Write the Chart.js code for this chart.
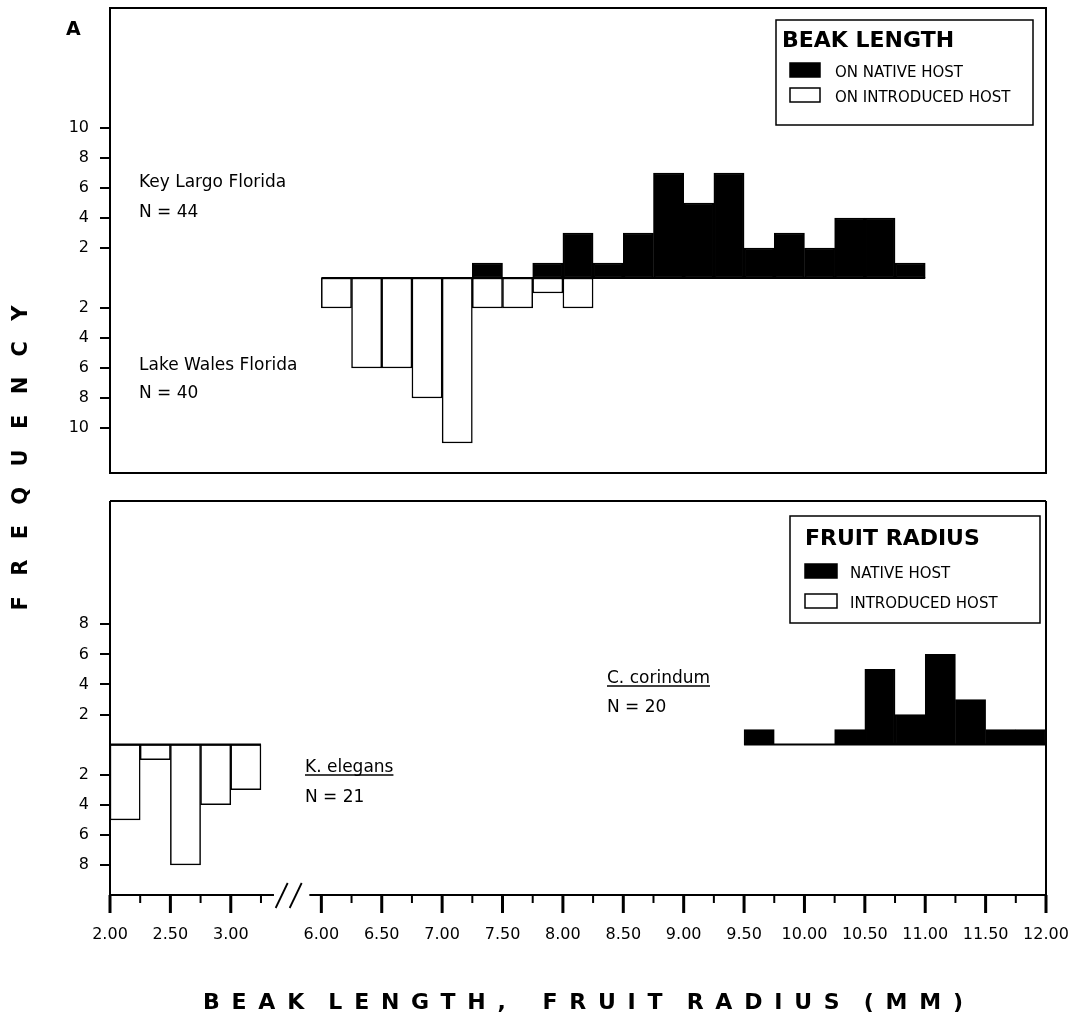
<!DOCTYPE html>
<html>
<head>
<meta charset="utf-8">
<title>Beak length and fruit radius</title>
<script src="https://cdn.jsdelivr.net/npm/chart.js@4.4.1/dist/chart.umd.min.js"></script>
<style>
  body { margin: 0; background: #fff; }
  #wrap { position: relative; width: 1078px; height: 1021px; }
  #wrap canvas { position: absolute; left: 0; top: 0; }
</style>
</head>
<body>
<div id="wrap">
  <canvas id="bottomChart" width="1078" height="1021"></canvas>
  <canvas id="topChart" width="1078" height="1021"></canvas>
</div>
<script>
// === Data (bin start in mm, bins are 0.25 mm wide) ===
const beakBins       = [6.00, 6.25, 6.50, 6.75, 7.00, 7.25, 7.50, 7.75, 8.00, 8.25,
                        8.50, 8.75, 9.00, 9.25, 9.50, 9.75, 10.00, 10.25, 10.50, 10.75];
const beakNative     = [0, 0, 0, 0, 0, 1, 0, 1, 3, 1, 3, 7, 5, 7, 2, 3, 2, 4, 4, 1];   // Key Largo, N = 44
const beakIntroduced = [2, 6, 6, 8, 11, 2, 2, 1, 2, 0, 0, 0, 0, 0, 0, 0, 0, 0, 0, 0]; // Lake Wales, N = 40

const fruitIntroducedBins = [2.00, 2.25, 2.50, 2.75, 3.00];
const fruitIntroduced     = [5, 1, 8, 4, 3];                                          // K. elegans, N = 21
const fruitNativeBins     = [9.50, 9.75, 10.00, 10.25, 10.50, 10.75, 11.00, 11.25, 11.50, 11.75];
const fruitNative         = [1, 0, 0, 1, 5, 2, 6, 3, 1, 1];                           // C. corindum, N = 20

const xTickValues = [2.00, 2.25, 2.50, 2.75, 3.00, 3.25,
                     6.00, 6.25, 6.50, 6.75, 7.00, 7.25, 7.50, 7.75, 8.00, 8.25, 8.50, 8.75,
                     9.00, 9.25, 9.50, 9.75, 10.00, 10.25, 10.50, 10.75, 11.00, 11.25, 11.50, 11.75, 12.00];
const xTickLabels = ['2.00', '2.50', '3.00', '6.00', '6.50', '7.00', '7.50', '8.00', '8.50',
                     '9.00', '9.50', '10.00', '10.50', '11.00', '11.50', '12.00'];
const yTicksTop    = [10, 8, 6, 4, 2];
const yTicksBottom = [8, 6, 4, 2];

const beakLegendTitle  = 'BEAK LENGTH';
const beakLegendLabels = ['ON NATIVE HOST', 'ON INTRODUCED HOST'];
const fruitLegendTitle  = 'FRUIT RADIUS';
const fruitLegendLabels = ['NATIVE HOST', 'INTRODUCED HOST'];

// === Broken x axis: 3.25 .. 6.00 is squeezed out ===
const BIN = 0.25;
const BREAK_AT = 4.5;
const BREAK_SHIFT = 2.25;
const toPos = v => (v > BREAK_AT ? v - BREAK_SHIFT : v);

Chart.defaults.font.family = '"DejaVu Sans", sans-serif';
Chart.defaults.font.size = 16;
Chart.defaults.color = '#000';

function histData(bins, counts, sign) {
    return bins.map((b, i) => ({ x: toPos(b + BIN / 2), y: counts[i] ? sign * counts[i] : null }));
}

function barSet(data, fill) {
    return {
        data: data,
        backgroundColor: fill,
        borderColor: '#000',
        borderWidth: 1.5,
        borderSkipped: false,
        grouped: false,
        barPercentage: 1,
        categoryPercentage: 1
    };
}

// keep the plot area exactly where the layout padding puts it
function noScalePadding(s) {
    s.paddingTop = 0;
    s.paddingBottom = 0;
    s.paddingLeft = 0;
    s.paddingRight = 0;
}

// === Drawing helpers ===
function line(ctx, x1, y1, x2, y2, w) {
    ctx.lineWidth = w;
    ctx.beginPath();
    ctx.moveTo(x1, y1);
    ctx.lineTo(x2, y2);
    ctx.stroke();
}

function text(ctx, str, x, y, font, underline) {
    ctx.font = font;
    ctx.textAlign = 'left';
    ctx.textBaseline = 'alphabetic';
    ctx.fillText(str, x, y);
    if (underline) {
        line(ctx, x, y + 3, x + ctx.measureText(str).width, y + 3, 1.5);
    }
}

function spacedText(ctx, str, cx, cy, width, font) {
    ctx.font = font;
    ctx.textBaseline = 'middle';
    ctx.textAlign = 'left';
    const natural = ctx.measureText(str).width;
    const spaces = str.split(' ').length - 1;
    if ('letterSpacing' in ctx && 'wordSpacing' in ctx) {
        // spaces get only half of the letter gap, like the original lettering
        const gap = (width - natural) / ((str.length - 1) - 0.6 * spaces);
        ctx.letterSpacing = gap + 'px';
        ctx.wordSpacing = (-0.6 * gap) + 'px';
        ctx.fillText(str, cx - width / 2, cy);
        ctx.letterSpacing = '0px';
        ctx.wordSpacing = '0px';
    } else {
        const gap = (width - natural) / (str.length - 1);
        let x = cx - width / 2;
        for (const ch of str) {
            ctx.fillText(ch, x, cy);
            x += ctx.measureText(ch).width + gap;
        }
    }
}

function drawLegend(ctx, box, title, labels) {
    ctx.strokeStyle = '#000';
    ctx.lineWidth = 1.5;
    ctx.strokeRect(box.x, box.y, box.w, box.h);
    text(ctx, title, box.titleX, box.titleY, 'bold 22px "DejaVu Sans"');
    labels.forEach((lab, i) => {
        const sy = box.rowY[i];
        ctx.fillStyle = i === 0 ? '#000' : '#fff';
        ctx.fillRect(box.swX, sy - 14, box.swW, 14);
        ctx.strokeRect(box.swX, sy - 14, box.swW, 14);
        ctx.fillStyle = '#000';
        text(ctx, lab, box.textX, sy, '15px "DejaVu Sans"');
    });
}

function yScale(min, max, ticks) {
    return {
        min: min,
        max: max,
        afterFit: s => { s.width = 110; noScalePadding(s); },
        afterBuildTicks: s => {
            s.ticks = ticks.map(v => ({ value: -v })).concat(ticks.slice().reverse().map(v => ({ value: v })));
        },
        ticks: { padding: 11, callback: v => Math.abs(v) },
        grid: { drawOnChartArea: false, drawTicks: true, tickLength: 10, color: '#000', lineWidth: 2 },
        border: { display: false }
    };
}

// === Top panel: beak length ===
const topPanel = {
    id: 'topPanel',
    afterDraw(chart) {
        const { ctx, chartArea: a, scales: { x, y } } = chart;
        ctx.save();
        ctx.strokeStyle = '#000';
        ctx.fillStyle = '#000';
        ctx.lineWidth = 2;
        ctx.strokeRect(a.left, a.top, a.right - a.left, a.bottom - a.top);

        const y0 = y.getPixelForValue(0);
        line(ctx, x.getPixelForValue(toPos(beakBins[0])), y0,
             x.getPixelForValue(toPos(beakBins[beakBins.length - 1] + BIN)), y0, 2);

        text(ctx, 'A', 66, 35, 'bold 19px "DejaVu Sans"');
        text(ctx, 'Key Largo Florida', 139, 187, '17px "DejaVu Sans"');
        text(ctx, 'N = 44', 139, 217, '17px "DejaVu Sans"');
        text(ctx, 'Lake Wales Florida', 139, 370, '17px "DejaVu Sans"');
        text(ctx, 'N = 40', 139, 398, '17px "DejaVu Sans"');

        drawLegend(ctx, { x: 776, y: 20, w: 257, h: 105, titleX: 782, titleY: 47,
                          swX: 790, swW: 30, rowY: [77, 102], textX: 835 },
                   beakLegendTitle, beakLegendLabels);

        // y axis title spans both panels
        ctx.translate(22, 458);
        ctx.rotate(-Math.PI / 2);
        spacedText(ctx, 'FREQUENCY', 0, 0, 305, 'bold 21px "DejaVu Sans"');
        ctx.restore();
    }
};

new Chart(document.getElementById('topChart'), {
    type: 'bar',
    data: {
        datasets: [
            barSet(histData(beakBins, beakNative, 1), '#000'),
            barSet(histData(beakBins, beakIntroduced, -1), '#fff')
        ]
    },
    options: {
        responsive: false,
        animation: false,
        layout: { padding: { top: 8, right: 32, bottom: 1021 - 473, left: 0 } },
        plugins: { legend: { display: false }, tooltip: { enabled: false } },
        scales: {
            x: { type: 'linear', min: 2, max: toPos(12), offset: false, display: false },
            y: yScale(-13, 18, yTicksTop)
        }
    },
    plugins: [topPanel]
});

// === Bottom panel: fruit radius ===
const bottomPanel = {
    id: 'bottomPanel',
    afterDraw(chart) {
        const { ctx, chartArea: a, scales: { x, y } } = chart;
        ctx.save();
        ctx.strokeStyle = '#000';
        ctx.fillStyle = '#000';

        // frame with the broken bottom axis
        const leftEnd = x.getPixelForValue(3.25) + 13;
        const rightStart = x.getPixelForValue(toPos(6.00)) - 12;
        line(ctx, a.left, a.top, a.right, a.top, 2);
        line(ctx, a.left, a.top, a.left, a.bottom, 2);
        line(ctx, a.right, a.top, a.right, a.bottom, 2);
        line(ctx, a.left, a.bottom, leftEnd, a.bottom, 2);
        line(ctx, rightStart, a.bottom, a.right, a.bottom, 2);
        const mid = (leftEnd + rightStart) / 2;
        line(ctx, mid - 16, a.bottom + 13, mid - 4, a.bottom - 12, 1.8);
        line(ctx, mid - 2, a.bottom + 13, mid + 10, a.bottom - 12, 1.8);

        // x tick marks, longer at labelled values
        xTickValues.forEach(v => {
            const px = x.getPixelForValue(toPos(v));
            const major = xTickLabels.includes(v.toFixed(2));
            line(ctx, px, a.bottom, px, a.bottom + (major ? 18 : 8), major ? 3 : 2);
        });

        const y0 = y.getPixelForValue(0);
        line(ctx, x.getPixelForValue(toPos(fruitIntroducedBins[0])), y0,
             x.getPixelForValue(toPos(fruitIntroducedBins[fruitIntroducedBins.length - 1] + BIN)), y0, 2);
        line(ctx, x.getPixelForValue(toPos(fruitNativeBins[0])), y0,
             x.getPixelForValue(toPos(fruitNativeBins[fruitNativeBins.length - 1] + BIN)), y0, 2);

        text(ctx, 'C. corindum', 607, 683, '17px "DejaVu Sans"', true);
        text(ctx, 'N = 20', 607, 712, '17px "DejaVu Sans"');
        text(ctx, 'K. elegans', 305, 772, '17px "DejaVu Sans"', true);
        text(ctx, 'N = 21', 305, 802, '17px "DejaVu Sans"');

        drawLegend(ctx, { x: 790, y: 516, w: 250, h: 107, titleX: 805, titleY: 545,
                          swX: 805, swW: 32, rowY: [578, 608], textX: 850 },
                   fruitLegendTitle, fruitLegendLabels);

        spacedText(ctx, 'BEAK LENGTH,  FRUIT RADIUS (MM)', 583, 1003, 760, 'bold 22px "DejaVu Sans"');
        ctx.restore();
    }
};

new Chart(document.getElementById('bottomChart'), {
    type: 'bar',
    data: {
        datasets: [
            barSet(histData(fruitNativeBins, fruitNative, 1), '#000'),
            barSet(histData(fruitIntroducedBins, fruitIntroduced, -1), '#fff')
        ]
    },
    options: {
        responsive: false,
        animation: false,
        layout: { padding: { top: 501, right: 32, bottom: 0, left: 0 } },
        plugins: { legend: { display: false }, tooltip: { enabled: false } },
        scales: {
            x: {
                type: 'linear',
                min: 2,
                max: toPos(12),
                offset: false,
                afterFit: s => { s.height = 1021 - 895; noScalePadding(s); },
                afterBuildTicks: s => { s.ticks = xTickValues.map(v => ({ value: toPos(v) })); },
                ticks: {
                    autoSkip: false,
                    maxRotation: 0,
                    minRotation: 0,
                    padding: 30,
                    callback: (val, i) => {
                        const lab = xTickValues[i].toFixed(2);
                        return xTickLabels.includes(lab) ? lab : '';
                    }
                },
                grid: { display: false, drawTicks: false },
                border: { display: false }
            },
            y: yScale(-10, 16.2, yTicksBottom)
        }
    },
    plugins: [bottomPanel]
});
</script>
</body>
</html>
